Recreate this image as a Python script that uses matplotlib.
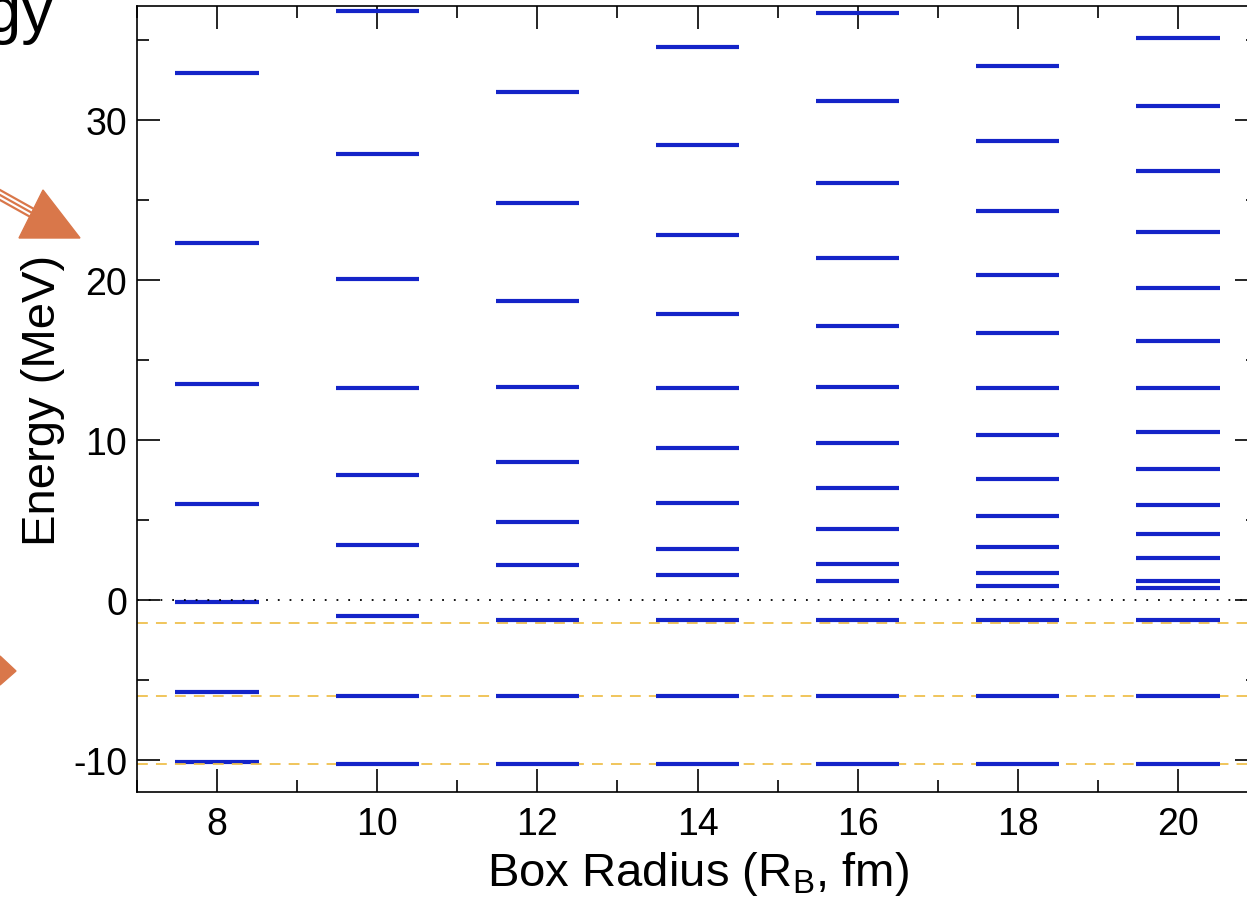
import matplotlib
matplotlib.use("Agg")
import matplotlib.pyplot as plt
from matplotlib.patches import Polygon
from matplotlib.ticker import MultipleLocator

# box radii (fm) and the energy levels (MeV) found at each one
radii = [8, 10, 12, 14, 16, 18, 20]
levels_8 = [32.92, 22.29, 13.46, 6.02, -0.15, -5.75, -10.10]
levels_10 = [36.79, 27.83, 20.06, 13.23, 7.79, 3.42, -1.02, -5.98, -10.23]
levels_12 = [31.73, 24.77, 18.65, 13.33, 8.63, 4.85, 2.15, -1.27, -5.98, -10.23]
levels_14 = [34.56, 28.44, 22.77, 17.83, 13.23, 9.46, 6.04, 3.21, 1.56,
             -1.27, -5.98, -10.23]
levels_16 = [36.69, 31.15, 26.06, 21.35, 17.10, 13.33, 9.79, 6.98, 4.40,
             2.25, 1.21, -1.27, -5.98, -10.23]
levels_18 = [33.38, 28.65, 24.29, 20.29, 16.65, 13.23, 10.27, 7.56, 5.21,
             3.33, 1.67, 0.86, -1.27, -5.98, -10.23]
levels_20 = [35.13, 30.88, 26.77, 23.00, 19.48, 16.17, 13.23, 10.50, 8.15,
             5.90, 4.13, 2.60, 1.21, 0.73, -1.27, -5.98, -10.23]
all_levels = [levels_8, levels_10, levels_12, levels_14, levels_16,
              levels_18, levels_20]

# exact bound states (dashed reference lines)
bound_states = [-1.44, -6.02, -10.25]

plt.rcParams['font.family'] = ['Liberation Sans', 'DejaVu Sans']
plt.rcParams['axes.unicode_minus'] = False

W, H = 1247, 904
fig = plt.figure(figsize=(W / 100, H / 100), dpi=100)
ax = fig.add_axes([137 / W, 1 - 793 / H, (1258 - 137) / W, (793 - 7) / H])

half = 0.52
for r, lev in zip(radii, all_levels):
    # the first column sits under the reference lines, the others above
    z = 1 if r == radii[0] else 3
    ax.hlines(lev, r - half, r + half, colors='#1424c8', linewidth=3.0,
              zorder=z)

ax.axhline(0, color='black', linewidth=1.3, linestyle=(0, (1, 5.5)), zorder=2)
for e in bound_states:
    ax.axhline(e, color='#efc04e', linewidth=1.3, linestyle=(0, (6, 4.5)),
               zorder=2)

ax.set_xlim(7, 21)
ax.set_ylim(-12, 37.1)
ax.xaxis.set_major_locator(MultipleLocator(2))
ax.xaxis.set_minor_locator(MultipleLocator(1))
ax.yaxis.set_major_locator(MultipleLocator(10))
ax.yaxis.set_minor_locator(MultipleLocator(5))
ax.tick_params(which='both', direction='in', top=True, right=True,
               width=1.2, labelsize=27)
ax.tick_params(which='major', length=16.5)
ax.tick_params(which='minor', length=8.5)
ax.tick_params(axis='x', pad=10)
ax.tick_params(axis='y', pad=7)
for s in ax.spines.values():
    s.set_linewidth(1.2)

ax.set_xlabel('Box Radius (R$_\\mathregular{B}$, fm)', fontsize=34,
              labelpad=5)
ax.set_ylabel('Energy (MeV)', fontsize=34, labelpad=6)

# slide decorations around the cropped figure
fig.text(54 / W, 1 - 32 / H, 'Energy', fontsize=46, ha='right',
         va='baseline', color='black')


def px(x, y):
    return (x / W, 1 - y / H)


orange = '#d9774a'
fig.add_artist(Polygon([px(19, 239), px(80, 239), px(43, 191)],
                       closed=True, color=orange, transform=fig.transFigure))
for off in (-5, 0, 5):
    fig.add_artist(plt.Line2D([0, 34 / W],
                              [1 - (196 + off) / H, 1 - (215 + off) / H],
                              color=orange, linewidth=1.6,
                              transform=fig.transFigure))
fig.add_artist(Polygon([px(0, 657), px(16, 672), px(0, 686)],
                       closed=True, color=orange, transform=fig.transFigure))

fig.savefig('out.png', dpi=100)
